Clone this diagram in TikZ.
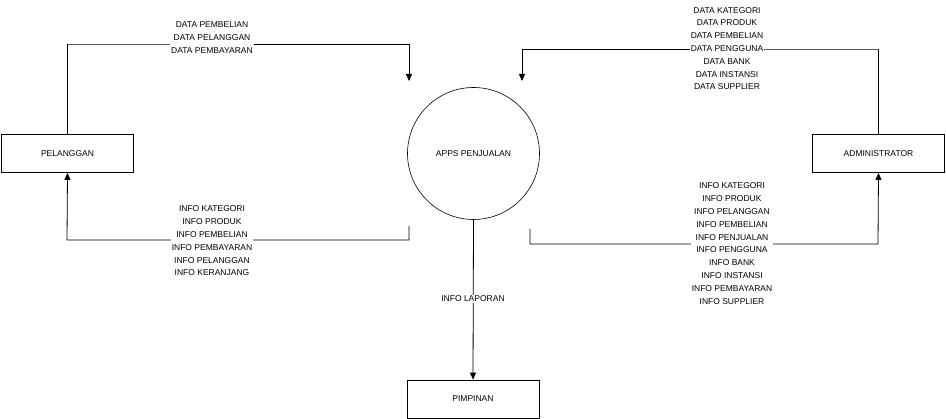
\documentclass[tikz,border=0pt]{standalone}
\usepackage{fontspec}
\setmainfont{Liberation Sans}
\usetikzlibrary{arrows.meta}
\begin{document}
\begin{tikzpicture}[x=1pt,y=-1pt,
  font=\fontsize{8.5}{12.8}\selectfont,
  entity/.style={draw,line width=0.8pt,minimum width=132pt,minimum height=38pt,inner sep=0pt},
  process/.style={draw,circle,line width=0.6pt,minimum size=132pt,inner sep=0pt},
  flow/.style={line width=0.8pt,-{Triangle[length=7pt,width=6pt]}},
  lbl/.style={fill=white,align=center,inner sep=1pt}]
\useasboundingbox (0,0) rectangle (946,419);

\node[entity] (pelanggan) at (67.5,153.5) {PELANGGAN};
\node[process] (apps) at (473.5,153.5) {APPS PENJUALAN};
\node[entity] (admin) at (878.5,153.5) {ADMINISTRATOR};
\node[entity] (pimpinan) at (473,399) {PIMPINAN};

\coordinate (inL) at (409,81);
\coordinate (inR) at (522,81);
\coordinate (outL) at (409,226);
\coordinate (outR) at (530,229);

\draw[flow] (pelanggan.north) |- (67,44) -| (inL);
\draw[flow] (admin.north) |- (878,49) -| (inR);
\draw[flow] (outL) |- (67,240) -- (pelanggan.south);
\draw[flow] (outR) |- (878,244) -- (admin.south);
\draw[flow] (apps.south) -- (pimpinan.north);

\node[lbl] (dpel) at (212,37.5) {DATA PEMBELIAN\\DATA PELANGGAN\\DATA PEMBAYARAN};
\node[lbl] (dadm) at (727,48.5) {DATA KATEGORI\\DATA PRODUK\\DATA PEMBELIAN\\DATA PENGGUNA\\DATA BANK\\DATA INSTANSI\\DATA SUPPLIER};
\node[lbl] (ipel) at (212,241) {INFO KATEGORI\\INFO PRODUK\\INFO PEMBELIAN\\INFO PEMBAYARAN\\INFO PELANGGAN\\INFO KERANJANG};
\node[lbl] (iadm) at (732,243.5) {INFO KATEGORI\\INFO PRODUK\\INFO PELANGGAN\\INFO PEMBELIAN\\INFO PENJUALAN\\INFO PENGGUNA\\INFO BANK\\INFO INSTANSI\\INFO PEMBAYARAN\\INFO SUPPLIER};
\node[lbl] (ilap) at (473,299) {INFO LAPORAN};
\end{tikzpicture}
\end{document}
